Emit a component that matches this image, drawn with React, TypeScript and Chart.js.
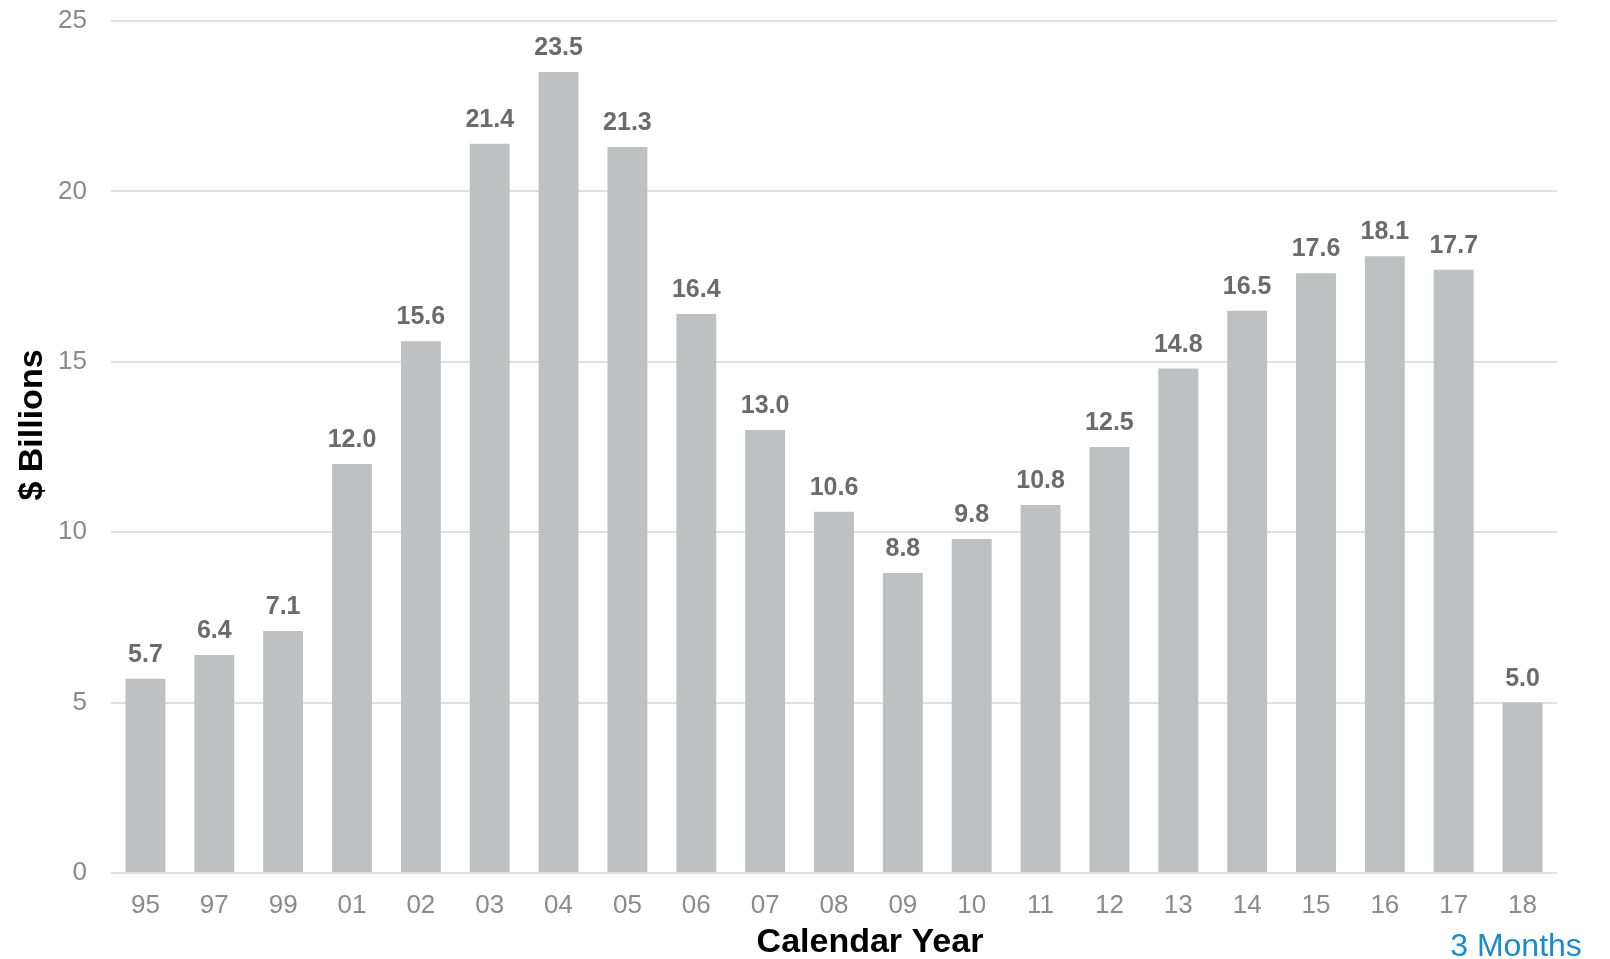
import React, { useEffect, useRef } from "react";
import { Chart, registerables } from "chart.js";

Chart.register(...registerables);

const categories = ["95", "97", "99", "01", "02", "03", "04", "05", "06", "07", "08", "09", "10", "11", "12", "13", "14", "15", "16", "17", "18"];
const values = [5.7, 6.4, 7.1, 12.0, 15.6, 21.4, 23.5, 21.3, 16.4, 13.0, 10.6, 8.8, 9.8, 10.8, 12.5, 14.8, 16.5, 17.6, 18.1, 17.7, 5.0];
const yTicks = [0, 5, 10, 15, 20, 25];
const xTitle = "Calendar Year";
const yTitle = "$ Billions";
const note = "3 Months";

const FONT = "'Liberation Sans', Arial, Helvetica, sans-serif";

const labelPlugin = {
  id: "customText",
  afterDatasetsDraw(chart: any) {
    const ctx = chart.ctx;
    const meta = chart.getDatasetMeta(0);
    ctx.save();
    ctx.fillStyle = "#6b6b6b";
    ctx.font = `bold 25px ${FONT}`;
    ctx.textAlign = "center";
    ctx.textBaseline = "alphabetic";
    meta.data.forEach((bar: any, i: number) => {
      ctx.fillText(values[i].toFixed(1), bar.x, bar.y - 17);
    });
    ctx.restore();
  },
  afterDraw(chart: any) {
    const ctx = chart.ctx;
    ctx.save();
    ctx.fillStyle = "#000000";
    ctx.font = `bold 34px ${FONT}`;
    ctx.textAlign = "center";
    ctx.textBaseline = "middle";
    ctx.fillText(xTitle, 870, 943);
    ctx.save();
    ctx.translate(33, 425);
    ctx.rotate(-Math.PI / 2);
    ctx.font = `bold 34px ${FONT}`;
    ctx.fillText(yTitle, 0, 0);
    ctx.restore();
    ctx.fillStyle = "#1a8bc9";
    ctx.font = `32px ${FONT}`;
    ctx.textAlign = "center";
    ctx.fillText(note, 1516, 947);
    ctx.restore();
  },
};

export default function App() {
  const ref = useRef<HTMLCanvasElement>(null);
  useEffect(() => {
    document.body.style.margin = "0";
    const chart = new Chart(ref.current!, {
      type: "bar",
      data: {
        labels: categories,
        datasets: [
          {
            data: values,
            backgroundColor: "#bfc0c2",
            borderWidth: 0,
            categoryPercentage: 1,
            barPercentage: 0.58,
          },
        ],
      },
      options: {
        responsive: false,
        animation: false,
        layout: { padding: { top: 21, right: 53, left: 0, bottom: 0 } },
        plugins: { legend: { display: false }, tooltip: { enabled: false } },
        scales: {
          x: {
            grid: { display: false, drawTicks: false },
            border: { display: false },
            ticks: {
              color: "#8a8a8a",
              font: { family: FONT, size: 26 },
              padding: 17,
              maxRotation: 0,
              autoSkip: false,
            },
            afterFit: (s: any) => {
              s.height = 86;
              s.paddingLeft = 0;
              s.paddingRight = 0;
            },
          },
          y: {
            min: 0,
            max: 25,
            afterBuildTicks: (s: any) => {
              s.ticks = yTicks.map((v) => ({ value: v }));
            },
            grid: { color: "#e0e0e0", lineWidth: 2, drawTicks: false },
            border: { display: false },
            ticks: {
              color: "#8a8a8a",
              font: { family: FONT, size: 26 },
              padding: 24,
            },
            afterFit: (s: any) => {
              s.width = 111;
              s.paddingTop = 0;
              s.paddingBottom = 0;
            },
          },
        },
      },
      plugins: [labelPlugin],
    });
    return () => chart.destroy();
  }, []);
  return (
    <div style={{ width: 1610, height: 959, position: "relative" }}>
      <canvas ref={ref} width={1610} height={959} style={{ display: "block" }} />
    </div>
  );
}
